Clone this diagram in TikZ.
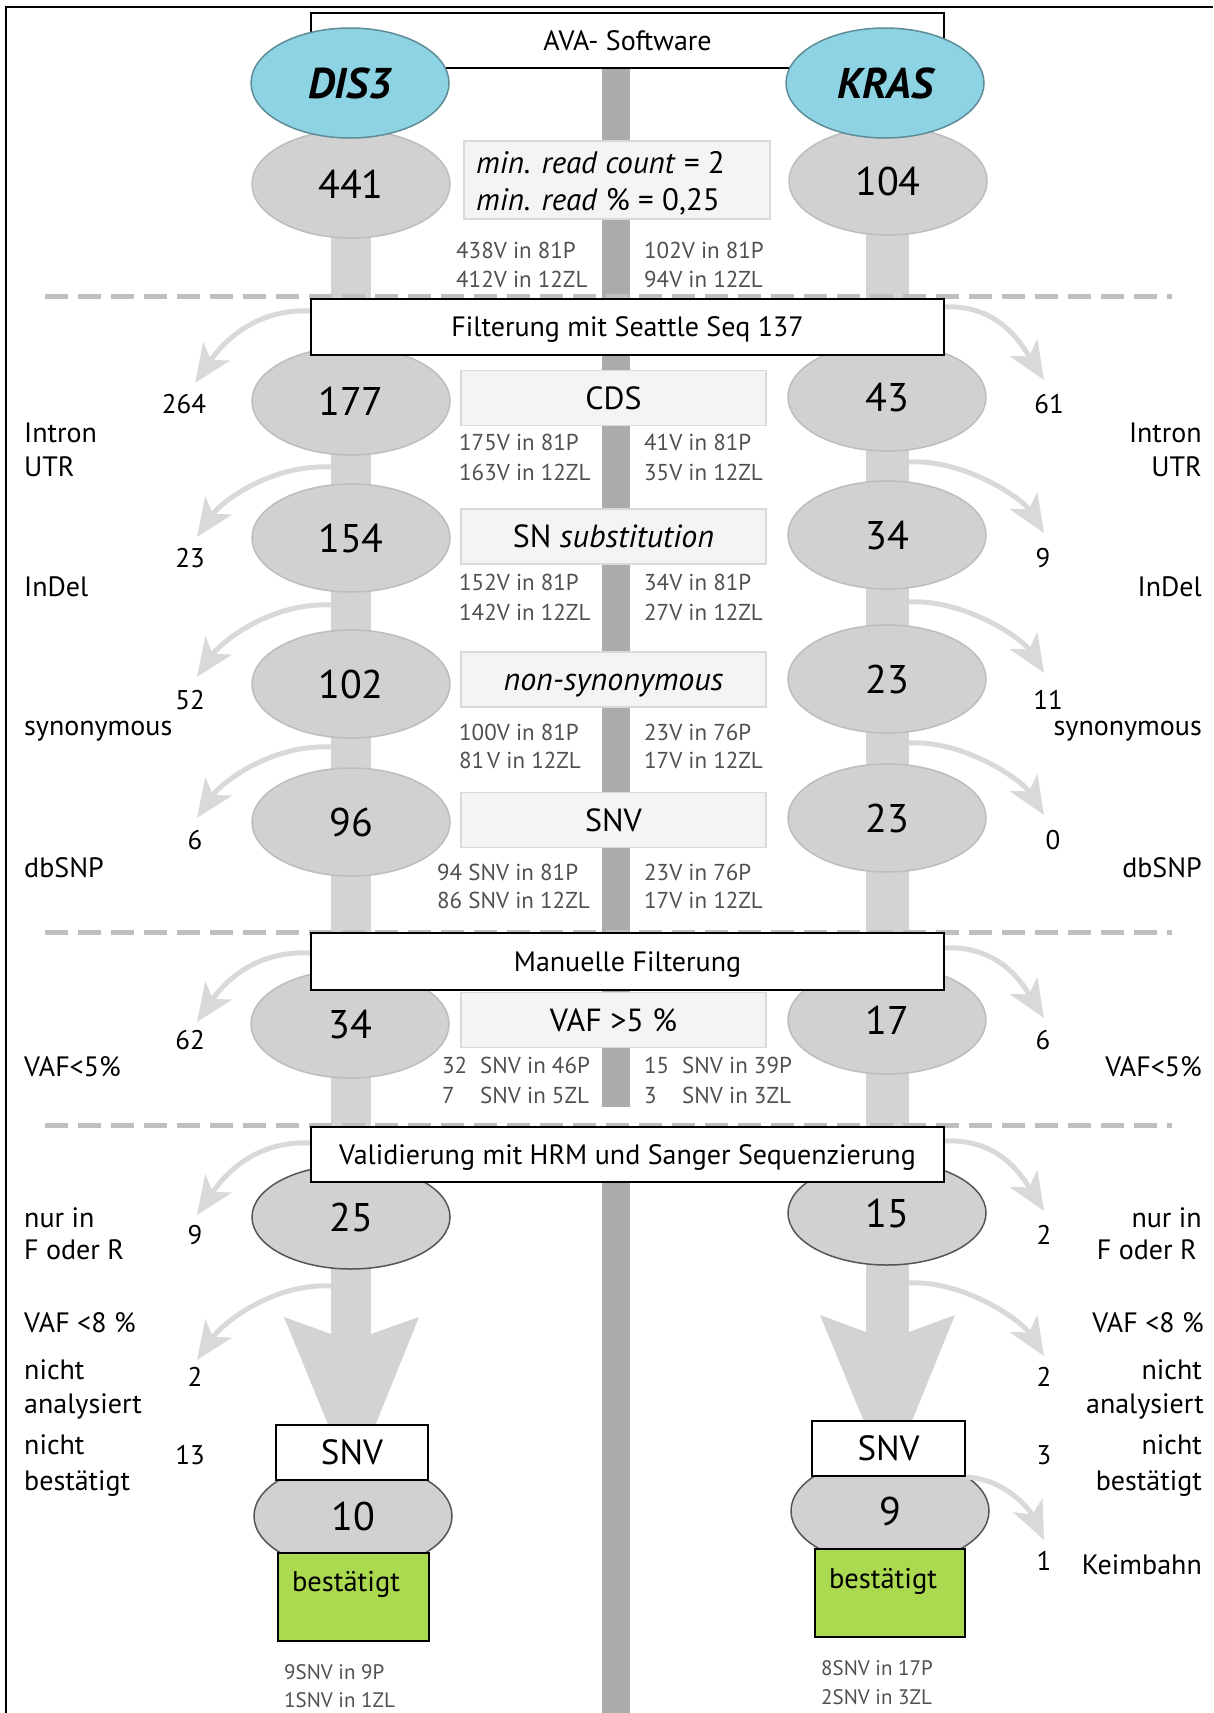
\documentclass[tikz,border=0pt]{standalone}
\usepackage{fontspec}
\setmainfont{PT Sans}
\usetikzlibrary{shapes.geometric,arrows.meta}
\definecolor{ellgray}{HTML}{D1D1D1}
\definecolor{ellbd}{HTML}{BDBDBD}
\definecolor{ellbddark}{HTML}{555555}
\definecolor{bargray}{HTML}{D3D3D3}
\definecolor{midbar}{HTML}{ABABAB}
\definecolor{innerfill}{HTML}{F4F4F4}
\definecolor{innerbd}{HTML}{D9D9D9}
\definecolor{dashgray}{HTML}{BFBFBF}
\definecolor{arrgray}{HTML}{D9D9D9}
\definecolor{statgray}{HTML}{505050}
\definecolor{genefill}{HTML}{8DD3E3}
\definecolor{genebd}{HTML}{5E8C97}
\definecolor{okgreen}{HTML}{ABD94F}
\newcommand{\myfs}[1]{\fontsize{#1pt}{#1pt}\selectfont}
\tikzset{
  num/.style={ellipse, fill=ellgray, draw=ellbd, line width=1.5pt, minimum width=198pt, minimum height=108pt, inner sep=0pt, text height=28pt, text depth=0pt, font=\myfs{40}},
  numdark/.style={num, draw=ellbddark},
  gene/.style={ellipse, fill=genefill, draw=genebd, line width=1.5pt, minimum width=198pt, minimum height=110pt, inner sep=0pt, text height=30pt, text depth=0pt, font=\myfs{43}\bfseries\itshape},
  mainbox/.style={rectangle, draw=black, line width=2pt, fill=white, minimum width=633pt, minimum height=56pt, inner sep=0pt, text height=19.6pt, text depth=0pt, font=\myfs{28}},
  innerbox/.style={rectangle, draw=innerbd, line width=1.5pt, fill=innerfill, minimum width=305pt, minimum height=55pt, inner sep=0pt, text height=22pt, text depth=0pt, font=\myfs{32}},
  snvbox/.style={rectangle, draw=black, line width=2pt, fill=white, minimum width=152pt, minimum height=55pt, inner sep=0pt, text height=24.5pt, text depth=0pt, font=\myfs{35}},
  greenbox/.style={rectangle, draw=black, line width=2pt, fill=okgreen, minimum width=151pt, minimum height=88pt, inner sep=0pt},
  lab/.style={inner sep=0pt, text height=19.6pt, text depth=0pt, font=\myfs{28}},
  numlab/.style={inner sep=0pt, text height=19pt, text depth=0pt, font=\myfs{27}},
  stat/.style={inner sep=0pt, text height=16.1pt, text depth=0pt, anchor=west, text=statgray, font=\myfs{23}},
  bstat/.style={inner sep=0pt, text height=14.7pt, text depth=0pt, anchor=west, text=statgray, font=\myfs{21}},
  minrt/.style={inner sep=0pt, text height=21.7pt, text depth=0pt, anchor=west, font=\myfs{31}},
  besttxt/.style={inner sep=0pt, text height=20pt, text depth=0pt, font=\myfs{28.5}},
  carrow/.style={draw=arrgray, line width=5pt, -{Stealth[length=38pt,width=32pt,inset=10pt]}},
}
\begin{document}
\begin{tikzpicture}[x=1pt,y=-1pt]
\useasboundingbox (0,0) rectangle (1213,1713);
\fill[white] (0,0) rectangle (1213,1713);
% frame
\draw[line width=2pt] (6,1713) -- (6,7) -- (1213,7);
% AVA box
\node[mainbox, minimum height=55pt] (ava) at (627.5,40.5) {AVA- Software};
% bars
\fill[midbar] (602,69) rectangle (630,1107);
\fill[midbar] (602,1182) rectangle (630,1713);
\fill[bargray] (331,184) rectangle (371,1336);
\fill[bargray] (866,181) rectangle (909,1334);
\fill[bargray] (331,1334) -- (284,1317) -- (352,1483) -- (419,1317) -- (371,1334) -- cycle;
\fill[bargray] (866,1332) -- (820,1315) -- (888,1480) -- (955,1315) -- (909,1332) -- cycle;
% dashed separators
\foreach \yy in {296,932,1125}
  \draw[dashgray, line width=5pt, dash pattern=on 23pt off 10pt] (45,\yy) -- (1172,\yy);
\path (627.5,327) coordinate (filtc) (627.5,961.5) coordinate (manuc) (627.5,1154.5) coordinate (valic);
% coordinates for arrows
\coordinate (sL1) at (311,311); \coordinate (tL1) at (195,383);
\coordinate (sL2) at (331,467); \coordinate (tL2) at (197,537);
\coordinate (sL3) at (331,605); \coordinate (tL3) at (197,677);
\coordinate (sL4) at (331,747); \coordinate (tL4) at (197,818);
\coordinate (sL5) at (311,953); \coordinate (tL5) at (197,1022);
\coordinate (sL6) at (311,1143); \coordinate (tL6) at (197,1215);
\coordinate (sL7) at (331,1286); \coordinate (tL7) at (197,1360);
\coordinate (sR1) at (944,307); \coordinate (tR1) at (1044,380);
\coordinate (sR2) at (909,462); \coordinate (tR2) at (1044,533);
\coordinate (sR3) at (909,602); \coordinate (tR3) at (1044,673);
\coordinate (sR4) at (909,743); \coordinate (tR4) at (1044,815);
\coordinate (sR5) at (944,948); \coordinate (tR5) at (1044,1018);
\coordinate (sR6) at (944,1141); \coordinate (tR6) at (1044,1211);
\coordinate (sR7) at (909,1283); \coordinate (tR7) at (1044,1356);
\coordinate (tR8) at (1044,1540);
\foreach \i in {1,...,7}{
  \draw[carrow] (sL\i) .. controls +(-60,-3) and +(24,-35) .. (tL\i);
  \draw[carrow] (sR\i) .. controls +(55,-3) and +(-22,-35) .. (tR\i);
}
% inner boxes
\node[innerbox, minimum width=306pt, minimum height=78pt] (minr) at (617,180) {};
\node[minrt] (minr1) at (476,163) {\textit{min. read count} = 2};
\node[minrt] (minr2) at (476,200) {\textit{min. read} \% = 0,25};
\node[innerbox] (cds) at (613.5,398) {CDS};
\node[innerbox] (sns) at (613.5,536.5) {SN \textit{substitution}};
\node[innerbox] (nons) at (613.5,679.5) {\textit{non-synonymous}};
\node[innerbox] (snvi) at (613.5,820) {SNV};
\node[innerbox] (vaf) at (613.5,1020) {VAF >5 \%};
% ellipses
\node[num] (d441) at (351,184) {441};
\node[num] (k104) at (888,181) {104};
\node[gene] (dis3) at (350,83) {DIS3};
\node[gene] (kras) at (885,83) {KRAS};
\node[num] (d177) at (351,401) {177};
\node[num] (k43) at (887,397) {43};
\node[num] (d154) at (351,538) {154};
\node[num] (k34) at (887,535) {34};
\node[num] (d102) at (351,684) {102};
\node[num] (k23a) at (887,679) {23};
\node[num] (d96) at (351,822) {96};
\node[num] (k23b) at (887,818) {23};
\node[num] (d34) at (350,1024) {34};
\node[num] (k17) at (887,1020) {17};
\node[numdark, minimum height=104pt] (d25) at (351,1217) {25};
\node[numdark, minimum height=104pt] (k15) at (887,1213) {15};
% main boxes
\node[mainbox] (filt) at (filtc) {Filterung mit Seattle Seq 137};
\node[mainbox, minimum height=57pt] (manu) at (manuc) {Manuelle Filterung};
\node[mainbox, minimum height=55pt] (vali) at (valic) {Validierung mit HRM und Sanger Sequenzierung};
% bottom stacks
\node[numdark] (d10) at (353,1516) {10};
\node[numdark] (k9) at (890,1511) {9};
\node[snvbox] (snvL) at (352,1452.5) {SNV};
\node[snvbox, minimum width=153pt] (snvR) at (888.5,1448.5) {SNV};
\node[greenbox] (bestL) at (353.5,1597) {};
\node[greenbox, minimum width=150pt] (bestR) at (890,1593) {};
\node[besttxt] (bestLt) at (346,1581) {bestätigt};
\node[besttxt] (bestRt) at (883,1578) {bestätigt};
\draw[carrow] (snvR.south east) .. controls +(40,2) and +(-14,-30) .. (tR8);
% stats
\node[stat] (s1a) at (456,250) {438V in 81P};
\node[stat] (s1b) at (456,279) {412V in 12ZL};
\node[stat] (s1c) at (644,250) {102V in 81P};
\node[stat] (s1d) at (644,279) {94V in 12ZL};
\node[stat] (s2a) at (459,442) {175V in 81P};
\node[stat] (s2b) at (459,472) {163V in 12ZL};
\node[stat] (s2c) at (644,442) {41V in 81P};
\node[stat] (s2d) at (644,472) {35V in 12ZL};
\node[stat] (s3a) at (459,582) {152V in 81P};
\node[stat] (s3b) at (459,612) {142V in 12ZL};
\node[stat] (s3c) at (644,582) {34V in 81P};
\node[stat] (s3d) at (644,612) {27V in 12ZL};
\node[stat] (s4a) at (459,732) {100V in 81P};
\node[stat] (s4b) at (459,760) {81};
\node[stat] (s4b2) at (487,760) {V in 12ZL};
\node[stat] (s4c) at (644,732) {23V in 76P};
\node[stat] (s4d) at (644,760) {17V in 12ZL};
\node[stat] (s5a) at (437,872) {94 SNV in 81P};
\node[stat] (s5b) at (437,900) {86 SNV in 12ZL};
\node[stat] (s5c) at (644,872) {23V in 76P};
\node[stat] (s5d) at (644,900) {17V in 12ZL};
\node[stat] (s6a) at (442,1065) {32};
\node[stat] (s6a2) at (480,1065) {SNV in 46P};
\node[stat] (s6b) at (442,1095) {7};
\node[stat] (s6b2) at (480,1095) {SNV in 5ZL};
\node[stat] (s6c) at (644,1065) {15};
\node[stat] (s6c2) at (682,1065) {SNV in 39P};
\node[stat] (s6d) at (644,1095) {3};
\node[stat] (s6d2) at (682,1095) {SNV in 3ZL};
\node[bstat] (b1) at (284,1672) {9SNV in 9P};
\node[bstat] (b2) at (284,1700) {1SNV in 1ZL};
\node[bstat] (b3) at (821,1668) {8SNV in 17P};
\node[bstat] (b4) at (821,1697) {2SNV in 3ZL};
% left labels
\node[lab, anchor=west] (lIntron) at (24,433) {Intron};
\node[lab, anchor=west] (lUTR) at (24,467) {UTR};
\node[numlab] (l264) at (184,404) {264};
\node[numlab] (l23) at (190,558) {23};
\node[lab, anchor=west] (lInDel) at (24,587) {InDel};
\node[numlab] (l52) at (190,700) {52};
\node[lab, anchor=west] (lsyn) at (24,726) {synonymous};
\node[numlab] (l6) at (195,840) {6};
\node[lab, anchor=west] (ldb) at (24,868) {dbSNP};
\node[numlab] (l62) at (190,1040) {62};
\node[lab, anchor=west] (lvaf5) at (24,1067) {VAF<5\%};
\node[lab, anchor=west] (lnur) at (24,1218) {nur in};
\node[lab, anchor=west] (lFR) at (24,1250) {F oder R};
\node[numlab] (l9) at (195,1235) {9};
\node[lab, anchor=west] (lvaf8) at (24,1323) {VAF <8 \%};
\node[lab, anchor=west] (lnicht1) at (24,1370) {nicht};
\node[lab, anchor=west] (lana) at (24,1404) {analysiert};
\node[numlab] (l2) at (195,1377) {2};
\node[lab, anchor=west] (lnicht2) at (24,1445) {nicht};
\node[lab, anchor=west] (lbest) at (24,1481) {bestätigt};
\node[numlab] (l13) at (190,1455) {13};
% right labels
\node[numlab] (r61) at (1049,404) {61};
\node[lab, anchor=east] (rIntron) at (1202,433) {Intron};
\node[lab, anchor=east] (rUTR) at (1202,467) {UTR};
\node[numlab] (r9) at (1043,558) {9};
\node[lab, anchor=east] (rInDel) at (1202,587) {InDel};
\node[numlab] (r11) at (1048,700) {11};
\node[lab, anchor=east] (rsyn) at (1202,726) {synonymous};
\node[numlab] (r0) at (1053,840) {0};
\node[lab, anchor=east] (rdb) at (1202,868) {dbSNP};
\node[numlab] (r6) at (1043,1040) {6};
\node[lab, anchor=east] (rvaf5) at (1202,1067) {VAF<5\%};
\node[numlab] (r2a) at (1044,1235) {2};
\node[lab, anchor=east] (rnur) at (1202,1218) {nur in};
\node[lab, anchor=east] (rFR) at (1197,1250) {F oder R};
\node[lab, anchor=east] (rvaf8) at (1204,1323) {VAF <8 \%};
\node[numlab] (r2b) at (1044,1377) {2};
\node[lab, anchor=east] (rnicht1) at (1202,1370) {nicht};
\node[lab, anchor=east] (rana) at (1204,1404) {analysiert};
\node[numlab] (r3) at (1044,1455) {3};
\node[lab, anchor=east] (rnicht2) at (1202,1445) {nicht};
\node[lab, anchor=east] (rbest) at (1202,1481) {bestätigt};
\node[numlab] (r1) at (1044,1561) {1};
\node[lab, anchor=east] (rkeim) at (1202,1565) {Keimbahn};
\end{tikzpicture}
\end{document}
